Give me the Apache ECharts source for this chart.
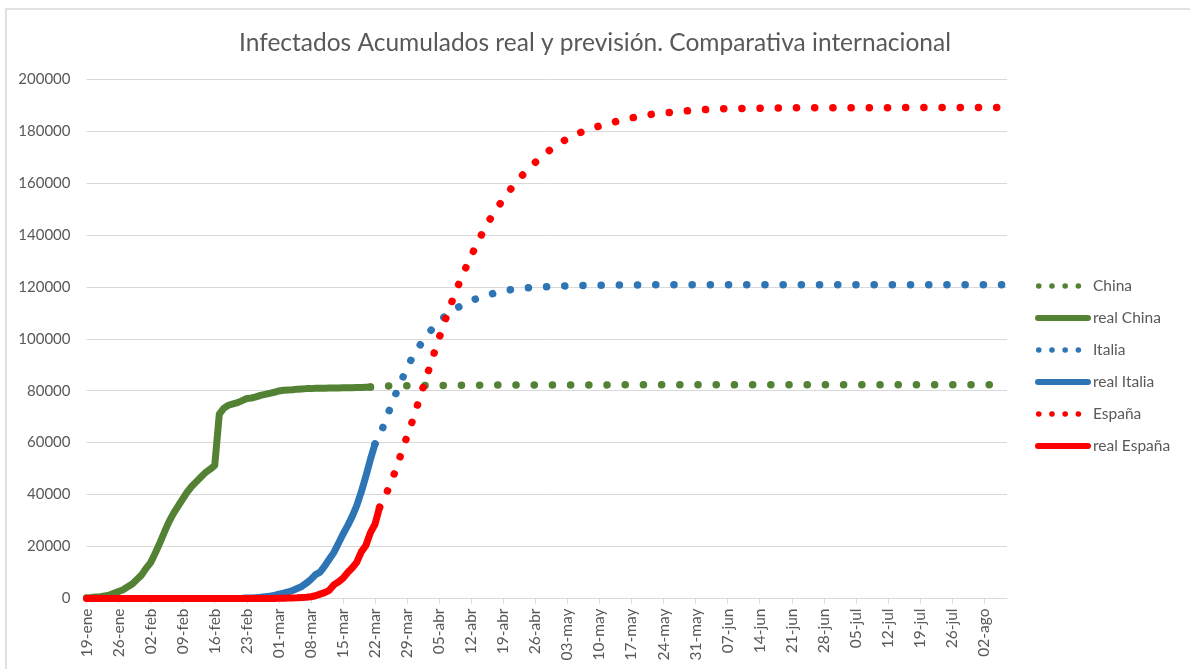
<!DOCTYPE html>
<html>
<head>
<meta charset="utf-8">
<script src="https://cdn.jsdelivr.net/npm/echarts@6/dist/echarts.min.js"></script>
<style>
  html, body { margin: 0; padding: 0; background: #ffffff; }
  #chart { width: 1190px; height: 669px; }
</style>
</head>
<body>
<div id="chart"></div>
<script>
// Daily axis: 19-ene .. 07-ago (2020)
const MESES = ['ene', 'feb', 'mar', 'abr', 'may', 'jun', 'jul', 'ago'];
const PRIMER_DIA = [2020, 0, 19];
const NUM_DIAS = 202;

// Cumulative infected, real figures
const CHINA_REAL_START = 0;
const chinaReal = [
  300, 400, 550, 700, 1000, 1300, 2000, 2700, 3400, 4500,
  5600, 7300, 9000, 11600, 13800, 17400, 21300, 25500, 29500, 32800,
  35600, 38300, 41000, 43200, 45000, 46800, 48500, 49800, 51200, 71000,
  73300, 74400, 74900, 75400, 76200, 77000, 77200, 77600, 78200, 78600,
  79000, 79400, 79900, 80200, 80300, 80400, 80600, 80700, 80800, 80800,
  80900, 80900, 80900, 81000, 81000, 81000, 81100, 81100, 81100, 81200,
  81200, 81300, 81400
];

const ITALIA_REAL_START = 33;
const italiaReal = [
  20, 62, 155, 229, 322, 453, 655, 888, 1128, 1694,
  2036, 2502, 3089, 3858, 4636, 5883, 7375, 9172, 10149, 12462,
  15113, 17660, 21157, 24747, 27980, 31506, 35713, 41035, 47021, 53578,
  59500
];

const ESPANA_REAL_START = 0;
const espanaReal = [
  0, 0, 0, 0, 0, 0, 0, 0, 0, 0,
  0, 0, 1, 1, 1, 1, 1, 1, 1, 1,
  1, 2, 2, 2, 2, 2, 2, 2, 2, 2,
  2, 2, 2, 2, 2, 2, 3, 6, 13, 15,
  32, 45, 84, 120, 165, 222, 259, 400, 500, 673,
  1073, 1695, 2277, 3146, 5232, 6391, 7798, 9942, 11748, 13910,
  17963, 20410, 25374, 28603, 35136
];

// Cumulative infected, forecast
const CHINA_PREV_START = 62;
const chinaPrev = [
  81400, 81600, 81700, 81800, 81850, 81900, 81900, 81950, 81950, 82000,
  82000, 82000, 82000, 82050, 82050, 82050, 82050, 82100, 82100, 82100,
  82100, 82100, 82100, 82100, 82150, 82150, 82150, 82150, 82150, 82150,
  82150, 82200, 82200, 82200, 82200, 82200, 82200, 82200, 82200, 82200,
  82200, 82200, 82200, 82200, 82200, 82200, 82200, 82200, 82200, 82200,
  82200, 82200, 82250, 82250, 82250, 82250, 82250, 82250, 82250, 82250,
  82250, 82250, 82250, 82250, 82250, 82250, 82250, 82250, 82250, 82250,
  82250, 82250, 82250, 82250, 82250, 82250, 82250, 82250, 82250, 82250,
  82300, 82300, 82300, 82300, 82300, 82300, 82300, 82300, 82300, 82300,
  82300, 82300, 82300, 82300, 82300, 82300, 82300, 82300, 82300, 82300,
  82300, 82300, 82300, 82300, 82300, 82300, 82300, 82300, 82300, 82300,
  82300, 82300, 82300, 82300, 82300, 82300, 82300, 82300, 82300, 82300,
  82300, 82300, 82300, 82300, 82300, 82300, 82300, 82300, 82300, 82300,
  82300, 82300, 82300, 82300, 82300, 82300, 82300, 82300, 82300, 82300
];

const ITALIA_PREV_START = 63;
const italiaPrev = [
  59500, 62500, 67200, 71900, 76400, 80800, 84800, 88700, 92300, 95300,
  98000, 100600, 102800, 104800, 106600, 108200, 109600, 110900, 112000, 112900,
  113800, 114600, 115300, 115900, 116500, 117000, 117500, 117900, 118300, 118700,
  119000, 119200, 119400, 119600, 119700, 119800, 119900, 120000, 120100, 120200,
  120200, 120300, 120400, 120400, 120400, 120500, 120500, 120500, 120600, 120600,
  120600, 120600, 120600, 120700, 120700, 120700, 120700, 120700, 120700, 120700,
  120800, 120800, 120800, 120800, 120800, 120800, 120800, 120800, 120800, 120800,
  120800, 120800, 120800, 120800, 120800, 120800, 120800, 120800, 120800, 120800,
  120800, 120800, 120800, 120800, 120800, 120800, 120800, 120800, 120800, 120800,
  120800, 120800, 120800, 120800, 120800, 120800, 120800, 120800, 120800, 120800,
  120800, 120800, 120800, 120800, 120800, 120800, 120800, 120800, 120800, 120800,
  120800, 120800, 120800, 120800, 120800, 120800, 120800, 120800, 120800, 120800,
  120800, 120800, 120800, 120800, 120800, 120800, 120800, 120800, 120800, 120800,
  120800, 120800, 120800, 120800, 120800, 120800, 120800, 120800, 120800
];

const ESPANA_PREV_START = 64;
const espanaPrev = [
  35100, 38600, 42500, 47000, 52000, 57300, 62500, 67500, 73000, 78500,
  84000, 89500, 95000, 100300, 105500, 110500, 115300, 119800, 124000, 128000,
  131900, 135600, 139200, 142600, 145700, 148600, 151200, 153700, 156200, 158500,
  160600, 162600, 164400, 166200, 167900, 169600, 171000, 172400, 173700, 174900,
  176000, 177000, 177900, 178700, 179500, 180200, 180800, 181400, 181900, 182400,
  182900, 183300, 183800, 184200, 184600, 185000, 185400, 185700, 186000, 186300,
  186600, 186800, 187000, 187100, 187200, 187400, 187600, 187700, 187900, 188000,
  188100, 188200, 188300, 188400, 188400, 188500, 188500, 188600, 188600, 188600,
  188700, 188700, 188700, 188700, 188800, 188800, 188800, 188800, 188800, 188800,
  188900, 188900, 188900, 188900, 188900, 188900, 188900, 188900, 188900, 188900,
  188900, 188900, 188900, 188900, 188900, 188900, 188900, 188900, 188900, 188900,
  188900, 188900, 188900, 188900, 189000, 189000, 189000, 189000, 189000, 189000,
  189000, 189000, 189000, 189000, 189000, 189000, 189000, 189000, 189000, 189000,
  189000, 189000, 189000, 189000, 189000, 189000, 189000, 189000
];

const Y_MIN = 0, Y_MAX = 200000, Y_STEP = 20000;

const VERDE = '#548235', AZUL = '#2E75B6', ROJO = '#FF0000';
const GRIS_TEXTO = '#595959', GRIS_LINEA = '#D9D9D9';
const FUENTE = 'Lato, "Open Sans", sans-serif';

// Category labels dd-mmm
const dias = [];
for (let i = 0; i < NUM_DIAS; i++) {
  const d = new Date(PRIMER_DIA[0], PRIMER_DIA[1], PRIMER_DIA[2] + i);
  dias.push(String(d.getDate()).padStart(2, '0') + '-' + MESES[d.getMonth()]);
}

// Place a run of values on the daily axis, empty elsewhere
function colocar(inicio, valores) {
  const fila = new Array(dias.length).fill(null);
  valores.forEach((v, i) => { fila[inicio + i] = v; });
  return fila;
}

const punteado = (color) => ({ color: color, width: 7.5, type: [0.1, 18.1], cap: 'round', join: 'round' });
const continuo = (color) => ({ color: color, width: 7, type: 'solid', cap: 'round', join: 'round' });

function serie(nombre, datos, estilo) {
  return {
    name: nombre, type: 'line', data: datos,
    symbol: 'none', showSymbol: false, smooth: false,
    lineStyle: estilo, itemStyle: { color: estilo.color },
    emphasis: { disabled: true }, silent: true, animation: false
  };
}

const legendaPuntos = (color) => ({ color: color, width: 5.5, type: [0.1, 13.1], dashOffset: 12.5, cap: 'round' });
const legendaLinea = (color) => ({ color: color, width: 6, type: 'solid', cap: 'round' });

const chart = echarts.init(document.getElementById('chart'), null, { renderer: 'canvas' });
chart.setOption({
  animation: false,
  backgroundColor: '#ffffff',
  title: {
    text: 'Infectados Acumulados real y previsión. Comparativa internacional',
    left: 'center', top: 26,
    textStyle: { color: GRIS_TEXTO, fontSize: 24.5, fontWeight: 'normal', fontFamily: FUENTE }
  },
  graphic: [{
    type: 'rect', silent: true, z: -1,
    shape: { x: 6, y: 9, width: 1220, height: 700 },
    style: { fill: null, stroke: GRIS_LINEA, lineWidth: 1.6 }
  }],
  grid: { left: 86.5, right: 183, top: 79, bottom: 70.5, containLabel: false },
  legend: {
    orient: 'vertical', left: 1030, top: 273, padding: 5,
    itemWidth: 50, itemHeight: 20, itemGap: 16,
    itemStyle: { opacity: 0 },
    textStyle: { color: GRIS_TEXTO, fontSize: 15.5, fontFamily: FUENTE },
    selectedMode: false,
    data: [
      { name: 'China', lineStyle: legendaPuntos(VERDE) },
      { name: 'real China', lineStyle: legendaLinea(VERDE) },
      { name: 'Italia', lineStyle: legendaPuntos(AZUL) },
      { name: 'real Italia', lineStyle: legendaLinea(AZUL) },
      { name: 'España', lineStyle: legendaPuntos(ROJO) },
      { name: 'real España', lineStyle: legendaLinea(ROJO) }
    ]
  },
  xAxis: {
    type: 'category', data: dias, boundaryGap: false,
    axisLine: { lineStyle: { color: GRIS_LINEA, width: 1 } },
    axisTick: { show: true, interval: 6, length: 5, lineStyle: { color: GRIS_LINEA } },
    axisLabel: { interval: 6, rotate: 90, margin: 10, color: GRIS_TEXTO, fontSize: 15.5, fontFamily: FUENTE },
    splitLine: { show: false }
  },
  yAxis: {
    type: 'value', min: Y_MIN, max: Y_MAX, interval: Y_STEP,
    axisLine: { show: false }, axisTick: { show: false },
    axisLabel: { margin: 16, color: GRIS_TEXTO, fontSize: 15, fontFamily: FUENTE, formatter: (v) => String(v) },
    splitLine: { lineStyle: { color: GRIS_LINEA, width: 1 } }
  },
  series: [
    serie('China', colocar(CHINA_PREV_START, chinaPrev), punteado(VERDE)),
    serie('real China', colocar(CHINA_REAL_START, chinaReal), continuo(VERDE)),
    serie('Italia', colocar(ITALIA_PREV_START, italiaPrev), punteado(AZUL)),
    serie('real Italia', colocar(ITALIA_REAL_START, italiaReal), continuo(AZUL)),
    serie('España', colocar(ESPANA_PREV_START, espanaPrev), punteado(ROJO)),
    serie('real España', colocar(ESPANA_REAL_START, espanaReal), continuo(ROJO))
  ]
});
</script>
</body>
</html>
